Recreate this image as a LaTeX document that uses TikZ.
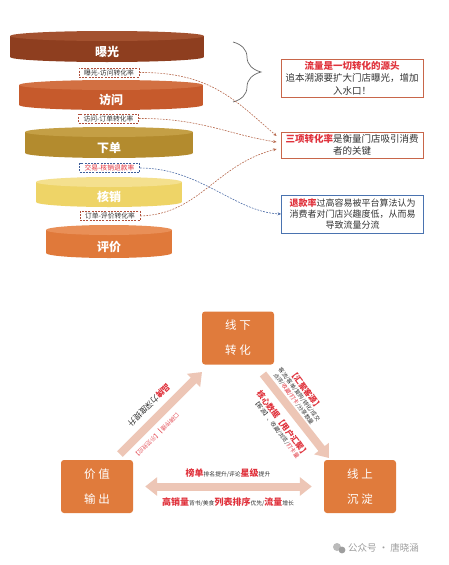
\documentclass[tikz,border=0pt]{standalone}
\usepackage{fontspec}
\setmainfont{Noto Sans CJK SC}
\usetikzlibrary{arrows.meta,decorations.pathreplacing,calc}
\definecolor{redtxt}{HTML}{E0323C}
\definecolor{darktxt}{HTML}{333333}
\definecolor{rateRed}{HTML}{B0503C}
\definecolor{rateBlue}{HTML}{3F5E9A}
\definecolor{linkRed}{HTML}{B86A4E}
\definecolor{linkBlue}{HTML}{4E6EA8}
\definecolor{boxRed}{HTML}{C8664A}
\definecolor{boxBlue}{HTML}{4A73B0}
\definecolor{stageor}{HTML}{E07B3C}
\definecolor{arrowpink}{HTML}{EDC6B6}
\definecolor{wmgray}{HTML}{9E9E9E}
\definecolor{dAb}{HTML}{8E3E1F}\definecolor{dAt}{HTML}{A3512F}
\definecolor{dBb}{HTML}{C65A2C}\definecolor{dBt}{HTML}{D27042}
\definecolor{dCb}{HTML}{B38B2E}\definecolor{dCt}{HTML}{C49F45}
\definecolor{dDb}{HTML}{EED467}\definecolor{dDt}{HTML}{F4E08E}
\definecolor{dEb}{HTML}{E0793A}\definecolor{dEt}{HTML}{E98F57}
\newcommand\rtx[1]{\textcolor{redtxt}{#1}}
\newcommand\fdisc[8]{%
  \fill[#6] ({#2-#5},{#3+5}) rectangle ({#2+#5},{#4-5});
  \fill[#6] (#2,{#4-5}) ellipse [x radius=#5, y radius=5];
  \fill[#7] (#2,{#3+5}) ellipse [x radius=#5, y radius=5];
  \node[disclabel] (#1) at (#2,{(#3+#4)/2+5}) {#8};
}
\begin{document}
\begin{tikzpicture}[x=1pt,y=-1pt,
  disclabel/.style={text=white, font=\fontsize{12}{12}\selectfont\bfseries, inner sep=0pt},
  ratebox/.style={draw=#1, fill=white, dashed, dash pattern=on 2pt off 1.2pt, line width=0.7pt, inner xsep=3pt, inner ysep=1.2pt, minimum width=60pt, font=\fontsize{6.8}{7}\selectfont, text=darktxt},
  notebox/.style={draw=#1, line width=0.8pt, fill=white, align=center, inner sep=2pt, minimum width=142pt, text=darktxt},
  link/.style={draw=#1, dashed, dash pattern=on 1.8pt off 1.2pt, line width=0.6pt, -{Stealth[length=3.5pt,width=3pt]}},
  stagebox/.style={fill=stageor, rounded corners=3pt, minimum width=72pt, minimum height=53pt, text=white, align=center, font=\fontsize{11.5}{25}\selectfont},
  bigarrow/.style={draw=arrowpink, line width=8pt},
  smalltxt/.style={font=\fontsize{5.6}{7}\selectfont, text=darktxt, inner sep=0.5pt, align=center}
]
\useasboundingbox[fill=white] (0,0) rectangle (449,565);

% ---------- funnel ----------
\fdisc{d1}{107}{31}{62}{97}{dAb}{dAt}{曝光}
\fdisc{d2}{111}{80}{110}{92}{dBb}{dBt}{访问}
\fdisc{d3}{109}{127}{158}{84}{dCb}{dCt}{下单}
\fdisc{d4}{109}{177}{207}{73}{dDb}{dDt}{核销}
\fdisc{d5}{109}{225}{258}{63}{dEb}{dEt}{评价}

\node[ratebox=rateRed] (l1) at (109,72.5) {曝光-访问转化率};
\node[ratebox=rateRed] (l2) at (108.5,118.5) {访问-订单转化率};
\node[ratebox=rateBlue, text=redtxt] (l3) at (109.5,168) {交易-核销退款率};
\node[ratebox=rateRed] (l4) at (110,216) {订单-评价转化率};

% ---------- notes ----------
\node[notebox=boxRed, minimum height=38pt, font=\fontsize{9.5}{12.3}\selectfont] (b1) at (352,78)
  {\rtx{\bfseries 流量是一切转化的源头}\\追本溯源要扩大门店曝光，增加\\入水口！};
\node[notebox=boxRed, minimum height=26pt, font=\fontsize{9.5}{12}\selectfont] (b2) at (352,145)
  {\rtx{\bfseries 三项转化率}是衡量门店吸引消费\\者的关键};
\node[notebox=boxBlue, minimum height=38pt, font=\fontsize{9}{11.2}\selectfont] (b3) at (352.5,214)
  {\rtx{\bfseries 退款率}过高容易被平台算法认为\\消费者对门店兴趣度低，从而易\\导致流量分流};

\draw[draw=black!60, line width=0.7pt, decorate, decoration={brace, amplitude=28pt}] (233,42) -- (233,102);

\coordinate (t1) at ($(b2.west)+(-4,-9)$);
\coordinate (t2) at ($(b2.west)+(-4,-3)$);
\coordinate (t4) at ($(b2.west)+(-4,4)$);
\draw[link=linkRed] (l1.east) .. controls (210,72) and (235,100) .. (t1);
\draw[link=linkRed] (l2.east) .. controls (200,118) and (230,135) .. (t2);
\draw[link=linkRed] (l4.east) .. controls (200,214) and (215,165) .. (t4);
\draw[link=linkBlue] (l3.east) .. controls (200,168) and (235,212) .. (b3.west);

% ---------- triangle ----------
\node[stagebox] (top) at (238,338) {线\hspace{3pt}下\\转\hspace{3pt}化};
\node[stagebox] (lo) at (97,486.5) {价\hspace{3pt}值\\输\hspace{3pt}出};
\node[stagebox] (ro) at (360,486.5) {线\hspace{3pt}上\\沉\hspace{3pt}淀};

\coordinate (a1s) at (120,454);
\coordinate (a1e) at (202,372);
\coordinate (a2s) at (263,374);
\coordinate (a2e) at (329,458);
\draw[bigarrow, -{Triangle[length=12pt,width=18pt]}] (a1s) -- (a1e);
\draw[bigarrow, -{Triangle[length=12pt,width=18pt]}] (a2s) -- (a2e);
\draw[bigarrow, {Triangle[length=12pt,width=18pt]}-{Triangle[length=12pt,width=18pt]}]
  ([xshift=12pt]lo.east) -- ([xshift=-12pt]ro.west);

% texts along left arrow
\node[rotate=225, inner sep=0pt, font=\fontsize{8}{8}\selectfont, text=darktxt] (lt1) at (149,405)
  {\rtx{\bfseries 品牌}力深度提升};
\node[rotate=225, inner sep=0pt, font=\fontsize{5.8}{6}\selectfont, text=redtxt!80] (lt2) at (156,435)
  {口碑传播\,\rtx{\bfseries |}\,【示范效应】};

% texts along right arrow
\node[rotate=-53, smalltxt] (rt1) at (300,394)
  {\rtx{\fontsize{8}{9}\selectfont\bfseries 【汇聚客源】}\\客流/客单/复购/转化/成交\\点评/\rtx{收藏/打卡}/分享数量};
\node[rotate=-53, smalltxt] (rt2) at (280,426)
  {\rtx{\fontsize{8}{9}\selectfont\bfseries 核心数据【用户汇聚】}\\【客源】、收藏/浏览/\rtx{打卡量}};

% texts along horizontal arrow
\node[inner sep=0pt, text=darktxt, font=\fontsize{5.8}{6}\selectfont] (ht1) at (228,473)
  {\rtx{\fontsize{9}{9}\selectfont\bfseries 榜单}排名提升/评论\rtx{\fontsize{9}{9}\selectfont\bfseries 星级}提升};
\node[inner sep=0pt, text=darktxt, font=\fontsize{5.8}{6}\selectfont] (ht2) at (228,502)
  {\rtx{\fontsize{9}{9}\selectfont\bfseries 高销量}背书/美食\rtx{\fontsize{9}{9}\selectfont\bfseries 列表排序}优先/\rtx{\fontsize{9}{9}\selectfont\bfseries 流量}增长};

% watermark
\fill[wmgray!70] (337,547) circle [radius=4];
\fill[wmgray] (342,550) circle [radius=3.4];
\node[text=wmgray, font=\fontsize{9.5}{10}\selectfont, anchor=west, inner sep=0pt] (wm) at (348,548) {公众号 · 唐晓涵};
\end{tikzpicture}
\end{document}
